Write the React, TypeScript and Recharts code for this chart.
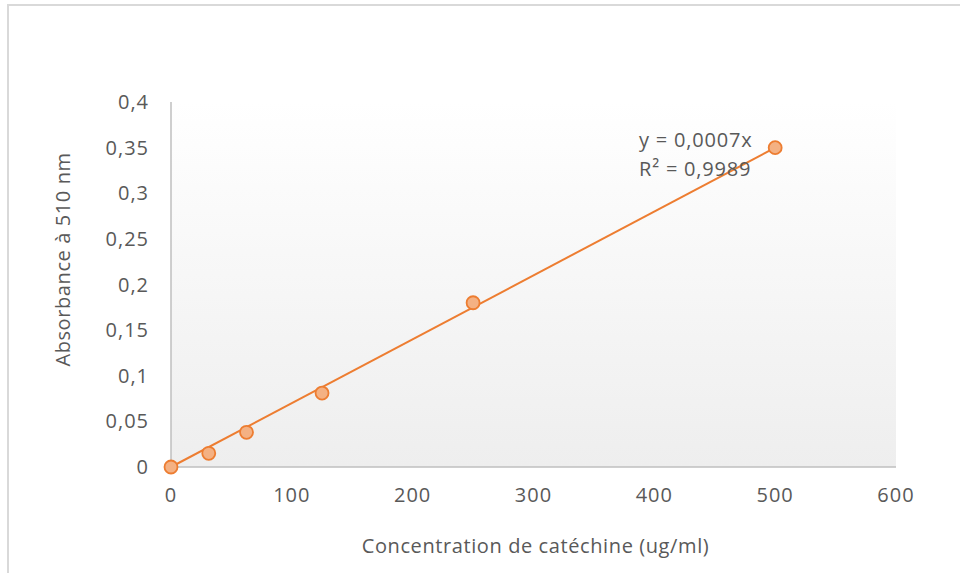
import React from "react";
import {
  ComposedChart,
  Scatter,
  XAxis,
  YAxis,
  ReferenceArea,
} from "recharts";

const concentrations = [0, 31.25, 62.5, 125, 250, 500];
const absorbances = [0, 0.015, 0.038, 0.081, 0.18, 0.35];
const xTicks = [0, 100, 200, 300, 400, 500, 600];
const yTicks = [0, 0.05, 0.1, 0.15, 0.2, 0.25, 0.3, 0.35, 0.4];
const slope = 0.0007;
const trendX = [0, 500];
const equationLines = ["y = 0,0007x", "R² = 0,9989"];
const xTitle = "Concentration de catéchine (ug/ml)";
const yTitle = "Absorbance à 510 nm";

const points = concentrations.map((x, i) => ({ x, y: absorbances[i] }));
const trend = trendX.map((x) => ({ x, y: slope * x }));

const FONT = "'Open Sans', sans-serif";
const GREY = "#595959";
const ORANGE = "#ED7D31";

const fmt = (v: number) => String(v).replace(".", ",");

const Dot = (props: any) => {
  const { cx, cy } = props;
  if (cx == null || cy == null) return null;
  return (
    <circle cx={cx} cy={cy} r={6.5} fill="#F4B183" stroke={ORANGE} strokeWidth={1.8} />
  );
};

const NoDot = () => null;

const YTitle = (props: any) => {
  const vb = props.viewBox || { x: 0, y: 102, width: 171, height: 365 };
  const x = vb.x + 62;
  const y = vb.y + vb.height / 2 - 25;
  return (
    <text
      x={x}
      y={y}
      transform={`rotate(-90, ${x}, ${y})`}
      textAnchor="middle"
      dominantBaseline="central"
      fill={GREY}
      fontSize={20}
      fontFamily={FONT}
      letterSpacing={0.6}
    >
      {yTitle}
    </text>
  );
};

const XTitle = (props: any) => {
  const vb = props.viewBox || { x: 171, y: 467, width: 725, height: 106 };
  const x = vb.x + vb.width / 2 + 2;
  const y = vb.y + 78;
  return (
    <text
      x={x}
      y={y}
      textAnchor="middle"
      dominantBaseline="central"
      fill={GREY}
      fontSize={20}
      fontFamily={FONT}
      letterSpacing={0.6}
    >
      {xTitle}
    </text>
  );
};

const tickStyle = { fill: GREY, fontSize: 20, fontFamily: FONT, letterSpacing: 1 };

export default function App() {
  return (
    <div style={{ position: "absolute", left: 0, top: 0, width: 960, height: 573, background: "#fff", overflow: "hidden" }}>
      <div
        style={{
          position: "absolute",
          left: 7,
          top: 4,
          width: 960,
          height: 600,
          borderLeft: "2px solid #d9d9d9",
          borderTop: "2px solid #d9d9d9",
          boxSizing: "border-box",
        }}
      />
      <div style={{ position: "absolute", left: 0, top: 0 }}>
        <ComposedChart
          width={960}
          height={573}
          margin={{ top: 102, right: 64, bottom: 0, left: 0 }}
        >
          <defs>
            <linearGradient id="plotBg" x1="0" y1="0" x2="0" y2="1">
              <stop offset="0%" stopColor="#ffffff" />
              <stop offset="100%" stopColor="#eeeeee" />
            </linearGradient>
          </defs>
          <XAxis
            type="number"
            dataKey="x"
            domain={[0, 600]}
            ticks={xTicks}
            interval={0}
            height={106}
            tickLine={false}
            tickSize={0}
            tickMargin={21}
            axisLine={{ stroke: "#bfbfbf", strokeWidth: 1.5 }}
            tick={tickStyle}
            label={{ content: (p: any) => <XTitle {...p} /> }}
          />
          <YAxis
            type="number"
            dataKey="y"
            domain={[0, 0.4]}
            ticks={yTicks}
            interval={0}
            width={171}
            tickLine={false}
            tickSize={0}
            tickMargin={22}
            tickFormatter={fmt}
            axisLine={{ stroke: "#bfbfbf", strokeWidth: 1.5 }}
            tick={tickStyle}
            label={{ content: (p: any) => <YTitle {...p} /> }}
          />
          <ReferenceArea
            x1={0}
            x2={600}
            y1={0}
            y2={0.4}
            fill="url(#plotBg)"
            fillOpacity={1}
            stroke="none"
            ifOverflow="visible"
          />
          <Scatter
            data={trend}
            line={{ stroke: ORANGE, strokeWidth: 2 }}
            lineType="joint"
            shape={NoDot}
            isAnimationActive={false}
          />
          <Scatter data={points} shape={Dot} isAnimationActive={false} />
        </ComposedChart>
      </div>
      <div
        style={{
          position: "absolute",
          left: 639,
          top: 125,
          fontFamily: FONT,
          fontSize: 20,
          letterSpacing: 0.8,
          color: GREY,
          lineHeight: "29px",
          whiteSpace: "pre",
        }}
      >
        {equationLines.map((l) => (
          <div key={l}>{l}</div>
        ))}
      </div>
    </div>
  );
}
